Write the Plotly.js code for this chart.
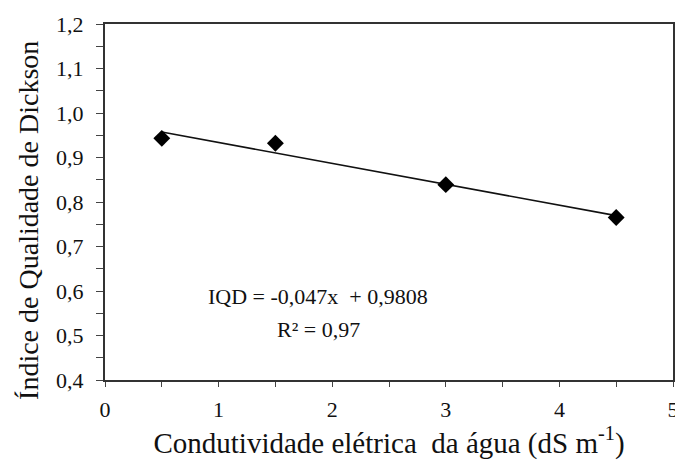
<!DOCTYPE html>
<html>
<head>
<meta charset="utf-8">
<script src="https://cdn.plot.ly/plotly-3.0.1.min.js"></script>
</head>
<body style="margin:0;background:#fff;font-family:'Liberation Serif'">
<div id="chart" style="width:675px;height:461px"></div>
<script>
// Electrical conductivity of irrigation water (dS m-1)
const conductivity = [0.5, 1.5, 3.0, 4.5];
// Dickson quality index measured at each level
const dicksonIndex = [0.943, 0.932, 0.839, 0.765];

// Fitted linear model: IQD = slope * x + intercept
const slope = -0.047;
const intercept = 0.9808;
const rSquared = 0.97;
const fitX = [0.5, 4.5];
const fitY = fitX.map(x => slope * x + intercept);

const yTickVals = [0.4, 0.5, 0.6, 0.7, 0.8, 0.9, 1.0, 1.1, 1.2];
const yTickText = ['0,4', '0,5', '0,6', '0,7', '0,8', '0,9', '1,0', '1,1', '1,2'];
const xTickVals = [0, 1, 2, 3, 4, 5];
const xTickText = ['0', '1', '2', '3', '4', '5'];

const fmt = v => v.toString().replace('.', ',');
const equationText = 'IQD = ' + fmt(slope) + 'x  + ' + fmt(intercept);
const r2Text = 'R² = ' + fmt(rSquared);

const textFace = 'Liberation Serif';
const ink = '#111';

const traces = [
  {
    x: fitX, y: fitY,
    type: 'scatter', mode: 'lines',
    line: { color: '#111', width: 1.6 },
    hoverinfo: 'skip', showlegend: false
  },
  {
    x: conductivity, y: dicksonIndex,
    type: 'scatter', mode: 'markers',
    marker: { symbol: 'diamond', size: 13, color: '#000' },
    showlegend: false
  }
];

const layout = {
  width: 675, height: 461,
  margin: { l: 105, r: 2, t: 24, b: 81 },
  paper_bgcolor: '#fff', plot_bgcolor: '#fff',
  xaxis: {
    range: [0, 5],
    tickvals: xTickVals, ticktext: xTickText,
    ticklabeloverflow: 'allow',
    ticks: 'outside', ticklen: 5, tickwidth: 1.2, tickcolor: '#444',
    ticklabelstandoff: 4,
    minor: { dtick: 0.5, ticks: 'outside', ticklen: 5, tickwidth: 1.2, tickcolor: '#444' },
    showline: true, linecolor: '#333', linewidth: 2, mirror: true,
    showgrid: false, zeroline: false,
    tickfont: { family: textFace, size: 22, color: ink },
    title: {
      text: 'Condutividade elétrica  da água (dS m<sup>-1</sup>)',
      font: { family: textFace, size: 29, color: ink },
      standoff: 8
    }
  },
  yaxis: {
    range: [0.4, 1.2],
    tickvals: yTickVals, ticktext: yTickText,
    ticks: 'outside', ticklen: 7, tickwidth: 1.2, tickcolor: '#444',
    ticklabelstandoff: 8,
    minor: { dtick: 0.05, ticks: 'outside', ticklen: 7, tickwidth: 1.2, tickcolor: '#444' },
    showline: true, linecolor: '#333', linewidth: 2, mirror: true,
    showgrid: false, zeroline: false,
    tickfont: { family: textFace, size: 22, color: ink }
  },
  annotations: [
    {
      // vertical axis title, set a little below the axis centre
      x: -0.136, y: 0.449, xref: 'paper', yref: 'paper',
      text: 'Índice de Qualidade de Dickson', textangle: -90,
      showarrow: false,
      font: { family: textFace, size: 28, color: ink },
      xanchor: 'center', yanchor: 'middle'
    },
    {
      x: 1.875, y: 0.587, xref: 'x', yref: 'y',
      text: equationText, showarrow: false,
      font: { family: textFace, size: 22, color: ink },
      xanchor: 'center', yanchor: 'middle'
    },
    {
      x: 1.875, y: 0.514, xref: 'x', yref: 'y',
      text: r2Text, showarrow: false,
      font: { family: textFace, size: 22, color: ink },
      xanchor: 'center', yanchor: 'middle'
    }
  ]
};

Plotly.newPlot('chart', traces, layout, { displayModeBar: false });
</script>
</body>
</html>
